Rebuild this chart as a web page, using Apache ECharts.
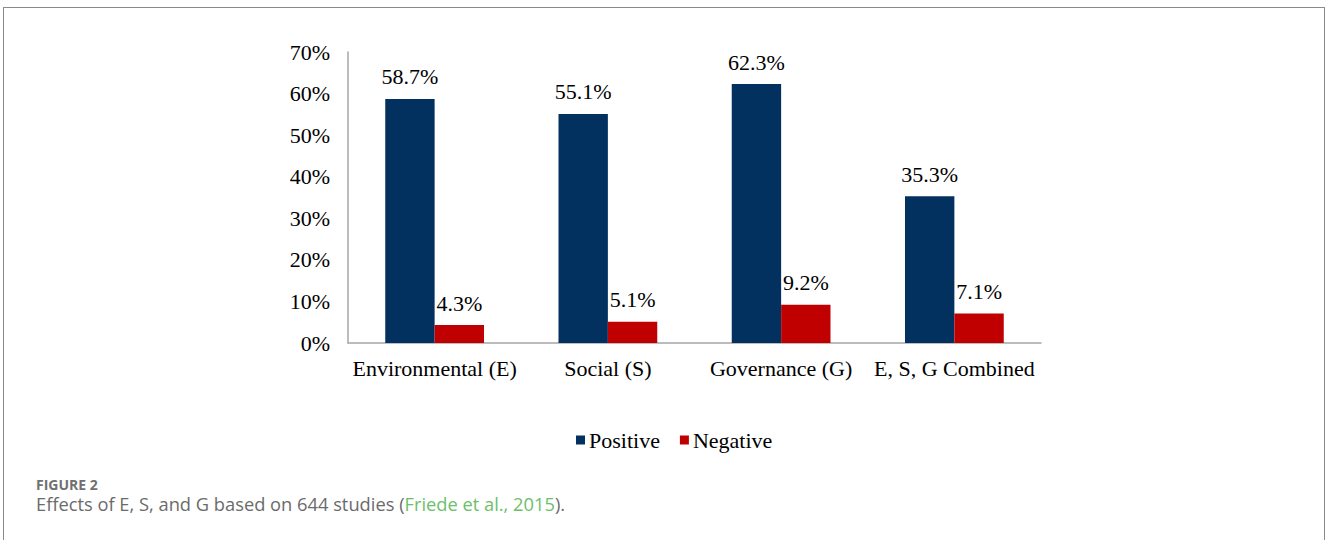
<!DOCTYPE html>
<html>
<head>
<meta charset="utf-8">
<script src="https://cdn.jsdelivr.net/npm/echarts@6/dist/echarts.min.js"></script>
<style>
  html, body { margin: 0; padding: 0; background: #fff; }
  #frame { position: absolute; left: 3px; top: 7px; width: 1322px; height: 600px; border: 1.5px solid #8a8a8a; box-sizing: border-box; }
  #chart { position: absolute; left: 0; top: 0; width: 1327px; height: 540px; }
</style>
</head>
<body>
<div id="frame"></div>
<div id="chart"></div>
<script>
const categories = ['Environmental (E)', 'Social (S)', 'Governance (G)', 'E, S, G Combined'];
const positiveValues = [58.7, 55.1, 62.3, 35.3];
const negativeValues = [4.3, 5.1, 9.2, 7.1];
const seriesNames = ['Positive', 'Negative'];
const yTicks = [0, 10, 20, 30, 40, 50, 60, 70];
const figureLabel = 'FIGURE 2';
const captionBefore = 'Effects of E, S, and G based on 644 studies (';
const captionLink = 'Friede et al., 2015';
const captionAfter = ').';

const serif = '"Liberation Serif", "Times New Roman", serif';
const sans = '"Open Sans", sans-serif';
const chart = echarts.init(document.getElementById('chart'), null, { renderer: 'svg' });

const labelStyle = {
  show: true, position: 'top', distance: 11,
  fontFamily: serif, fontSize: 22, color: '#000',
  formatter: p => p.value.toFixed(1) + '%'
};

chart.setOption({
  animation: false,
  backgroundColor: 'transparent',
  title: [
    { text: figureLabel, left: 36, top: 477, padding: 0,
      textStyle: { fontFamily: sans, fontSize: 14, lineHeight: 14, fontWeight: 'bold', color: '#707070' } },
    { text: '{a|' + captionBefore + '}{b|' + captionLink + '}{a|' + captionAfter + '}', left: 36, top: 494, padding: 0,
      textStyle: { fontWeight: 'normal', rich: {
        a: { fontFamily: sans, fontSize: 18.3, lineHeight: 18, fontWeight: 'normal', color: '#6b6b6b' },
        b: { fontFamily: sans, fontSize: 18.3, lineHeight: 18, fontWeight: 'normal', color: '#6cc06a' }
      } } }
  ],
  legend: {
    data: seriesNames, left: 571, top: 424,
    icon: 'rect', itemWidth: 9, itemHeight: 9, itemGap: 20,
    textStyle: { fontFamily: serif, fontSize: 22, color: '#000', padding: [0, 0, 0, -1] }
  },
  grid: { left: 348, right: 286, top: 52, bottom: 197, containLabel: false },
  xAxis: {
    type: 'category', data: categories,
    axisLine: { lineStyle: { color: '#a6a6a6', width: 1.5 } },
    axisTick: { show: false },
    axisLabel: { interval: 0, fontFamily: serif, fontSize: 22, color: '#000', margin: 14 }
  },
  yAxis: {
    type: 'value', min: yTicks[0], max: yTicks[yTicks.length - 1], interval: 10,
    axisLine: { show: true, lineStyle: { color: '#a6a6a6', width: 1.5 } },
    axisTick: { show: false },
    splitLine: { show: false },
    axisLabel: { fontFamily: serif, fontSize: 22, color: '#000', margin: 18, padding: [5, 0, 0, 0], formatter: v => v + '%' }
  },
  series: [
    { name: seriesNames[0], type: 'bar', data: positiveValues, barGap: '0%', barCategoryGap: '43%',
      itemStyle: { color: '#03315f' }, label: labelStyle },
    { name: seriesNames[1], type: 'bar', data: negativeValues, barGap: '0%', barCategoryGap: '43%',
      itemStyle: { color: '#c00000' }, label: labelStyle }
  ]
});
</script>
</body>
</html>
